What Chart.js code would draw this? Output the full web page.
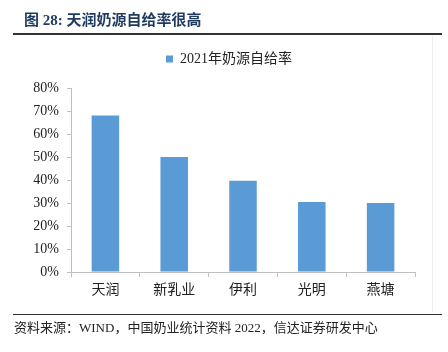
<!DOCTYPE html>
<html>
<head>
<meta charset="utf-8">
<script src="https://cdn.jsdelivr.net/npm/chart.js@4/dist/chart.umd.min.js"></script>
<style>
    body { margin: 0; background: #fff; }
    #wrap { position: relative; width: 448px; height: 352px; overflow: hidden; }
    #title { position: absolute; left: 24px; top: 8px; font: bold 15px 'Liberation Serif', 'Noto Sans CJK SC', serif; color: #1F3A5F; }
    #topLine { position: absolute; left: 13px; top: 33px; width: 429px; height: 2px; background: #333; }
    #bottomLine { position: absolute; left: 13px; top: 314px; width: 429px; height: 1px; background: #333; }
    #source { position: absolute; left: 14px; top: 317px; font: 13px 'Liberation Serif', 'Noto Sans CJK SC', serif; color: #222; }
    #rightEdge { position: absolute; left: 432px; top: 36px; width: 1px; height: 276px; background: #eee; }
    canvas { position: absolute; left: 0; top: 0; }
</style>
</head>
<body>
<div id="wrap">
    <canvas id="chart" width="448" height="352"></canvas>
    <div id="title">图 28: 天润奶源自给率很高</div>
    <div id="topLine"></div>
    <div id="rightEdge"></div>
    <div id="bottomLine"></div>
    <div id="source">资料来源：WIND，中国奶业统计资料 2022，信达证券研发中心</div>
</div>
<script>
// Data
const companies = ['天润', '新乳业', '伊利', '光明', '燕塘'];
const selfSupplyRate = [68, 50, 39.7, 30.4, 30];
const seriesLabel = '2021年奶源自给率';

const serif = "'Liberation Serif', 'Noto Sans CJK SC', serif";
const axisColor = '#BFBFBF';

// centre the legend a little right of the canvas middle, like the original
const legendShift = {
    id: 'legendShift',
    afterLayout(chart) {
        const lg = chart.legend;
        if (!lg) return;
        lg.left = chart.chartArea.left - 28;
        lg.right = chart.chartArea.right;
    }
};

const ctx = document.getElementById('chart').getContext('2d');
new Chart(ctx, {
    type: 'bar',
    data: {
        labels: companies,
        datasets: [{
            label: seriesLabel,
            data: selfSupplyRate,
            backgroundColor: '#5B9BD5',
            borderColor: '#5B9BD5',
            borderWidth: 0,
            barPercentage: 0.4,
            categoryPercentage: 1.0
        }]
    },
    options: {
        responsive: false,
        animation: false,
        layout: { padding: { left: 0, right: 33, top: 28, bottom: 0 } },
        plugins: {
            legend: {
                display: true,
                position: 'top',
                labels: {
                    boxWidth: 7,
                    boxHeight: 7,
                    padding: 24,
                    color: '#222',
                    font: { family: serif, size: 14 }
                }
            },
            // empty title used as a spacer between legend and plot
            title: {
                display: true,
                text: '',
                weight: 500,
                padding: 0,
                font: { size: 10, lineHeight: 1.2 }
            },
            tooltip: { enabled: false }
        },
        scales: {
            x: {
                grid: {
                    display: true,
                    drawOnChartArea: false,
                    offset: true,
                    tickLength: 5,
                    color: axisColor
                },
                border: { color: axisColor },
                ticks: {
                    color: '#222',
                    padding: 5,
                    font: { family: serif, size: 14 }
                },
                afterFit: (scale) => { scale.height = 80; }
            },
            y: {
                min: 0,
                max: 80,
                grid: {
                    display: true,
                    drawOnChartArea: false,
                    tickLength: 4,
                    color: axisColor
                },
                border: { color: axisColor },
                ticks: {
                    stepSize: 10,
                    color: '#222',
                    padding: 8,
                    font: { family: serif, size: 14 },
                    callback: (v) => v + '%'
                },
                afterFit: (scale) => { scale.width = 71; }
            }
        }
    },
    plugins: [legendShift]
});
</script>
</body>
</html>
